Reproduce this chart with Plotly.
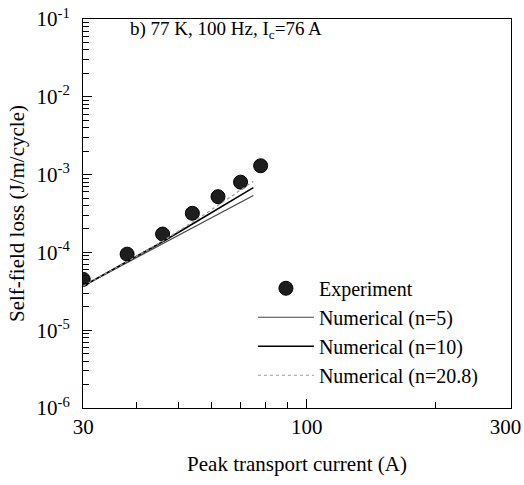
import math
import plotly.graph_objects as go

# Experimental data
exp_current = [30, 38, 46, 54, 62, 70, 78]
exp_loss = [4.5e-5, 9.5e-5, 1.72e-4, 3.18e-4, 5.2e-4, 8.0e-4, 1.30e-3]

# Numerical curves
num_current = [30, 35, 40, 46, 52, 58, 64, 70, 75]
num_n5 = [3.7e-5, 5.8e-5, 8.57e-5, 1.29e-4, 1.85e-4, 2.54e-4, 3.38e-4, 4.40e-4, 5.4e-4]
num_n10 = [3.7e-5, 5.9e-5, 8.9e-5, 1.37e-4, 2.04e-4, 2.92e-4, 4.05e-4, 5.43e-4, 6.8e-4]
num_n208 = [3.7e-5, 5.9e-5, 8.9e-5, 1.39e-4, 2.12e-4, 3.15e-4, 4.53e-4, 6.34e-4, 8.2e-4]

x_tickvals = [30, 100, 300]
x_ticktext = ["30", "100", "300\u00a0\u00a0"]
x_minor = [40, 50, 60, 70, 80, 90, 200]
y_tickvals = [1e-6, 1e-5, 1e-4, 1e-3, 1e-2, 1e-1]
y_ticktext = ["10<sup>-6</sup>", "10<sup>-5</sup>", "10<sup>-4</sup>",
              "10<sup>-3</sup>", "10<sup>-2</sup>", "10<sup>-1</sup>"]
y_minor = [m * 10.0 ** e for e in range(-6, -1) for m in range(2, 10)]

FONT = "Liberation Serif"
XR = [math.log10(30) - 0.0005, math.log10(300) + 0.0005]
YR = [-6, -1]

fig = go.Figure()
fig.add_trace(go.Scatter(x=exp_current, y=exp_loss, mode="markers", name="Experiment",
                         marker=dict(size=14, color="#1e1e1e",
                                     line=dict(width=1, color="#000"))))
fig.add_trace(go.Scatter(x=num_current, y=num_n5, mode="lines", name="Numerical (n=5)",
                         line=dict(color="#444444", width=1.2)))
fig.add_trace(go.Scatter(x=num_current, y=num_n10, mode="lines", name="Numerical (n=10)",
                         line=dict(color="#000000", width=1.6)))
fig.add_trace(go.Scatter(x=num_current, y=num_n208, mode="lines", name="Numerical (n=20.8)",
                         line=dict(color="#9a9a9a", width=1.2, dash="dot")))
# invisible helper trace so the minor-tick axes are drawn
fig.add_trace(go.Scatter(x=[30], y=[1e-6], xaxis="x2", yaxis="y2", mode="markers",
                         marker=dict(opacity=0), showlegend=False, hoverinfo="skip"))

fig.update_layout(
    width=524, height=485,
    margin=dict(l=83, r=13, t=19, b=77, autoexpand=False),
    paper_bgcolor="white", plot_bgcolor="white",
    font=dict(family=FONT, size=20, color="black"),
    showlegend=True,
    legend=dict(x=0.397, y=0.358, xanchor="left", yanchor="top",
                bgcolor="rgba(0,0,0,0)", font=dict(family=FONT, size=20),
                itemwidth=56, tracegroupgap=0),
    xaxis=dict(type="log", range=XR, automargin=False,
               tickmode="array", tickvals=x_tickvals, ticktext=x_ticktext,
               ticks="inside", ticklen=9, tickcolor="black", tickwidth=1.2,
               ticklabeloverflow="allow",
               showline=True, linecolor="black", linewidth=1, mirror=True,
               showgrid=False, zeroline=False,
               tickfont=dict(family=FONT, size=21),
               title=dict(text="Peak transport current (A)", font=dict(family=FONT, size=21), standoff=18)),
    yaxis=dict(type="log", range=YR, automargin=False,
               tickmode="array", tickvals=y_tickvals, ticktext=y_ticktext,
               ticks="inside", ticklen=9, tickcolor="black", tickwidth=1.2,
               ticklabelstandoff=8, ticklabeloverflow="allow",
               showline=True, linecolor="black", linewidth=1, mirror=True,
               showgrid=False, zeroline=False,
               tickfont=dict(family=FONT, size=21),
               title=dict(text="Self-field loss (J/m/cycle)", font=dict(family=FONT, size=21), standoff=6)),
    xaxis2=dict(type="log", range=XR, overlaying="x", side="bottom", automargin=False,
                tickmode="array", tickvals=x_minor, ticks="inside", ticklen=6,
                tickcolor="black", tickwidth=1.1, showticklabels=False, showgrid=False,
                zeroline=False, showline=False),
    yaxis2=dict(type="log", range=YR, overlaying="y", side="left", automargin=False,
                tickmode="array", tickvals=y_minor, ticks="inside", ticklen=6,
                tickcolor="black", tickwidth=1.1, showticklabels=False, showgrid=False,
                zeroline=False, showline=False),
    annotations=[dict(text="b) 77 K, 100 Hz, I<sub>c</sub>=76 A", xref="paper", yref="paper",
                      x=0.105, y=0.972, xanchor="left", yanchor="middle", showarrow=False,
                      font=dict(family=FONT, size=19))],
)

fig.write_html("out.html")
